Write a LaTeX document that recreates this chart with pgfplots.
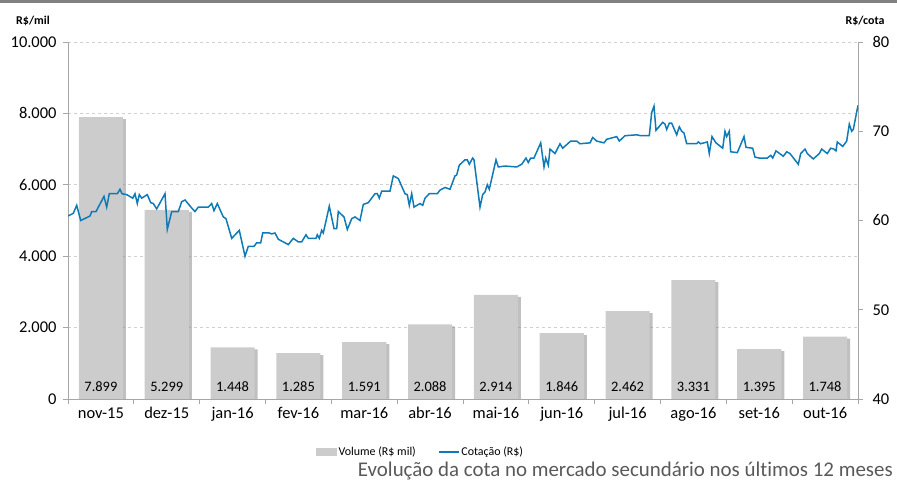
\documentclass[border=0pt]{standalone}
\usepackage{pgfplots}
\pgfplotsset{compat=1.18}
\usepackage{fontspec}
\setmainfont{Carlito}[Ligatures=NoCommon]
\definecolor{barcol}{HTML}{CCCCCC}
\definecolor{shadowcol}{HTML}{8C8C8C}
\definecolor{linecol}{HTML}{0F7AB5}
\definecolor{axcol}{HTML}{A6A6A6}
\definecolor{gridcol}{HTML}{D0D0D0}
\definecolor{captcol}{HTML}{595959}
\begin{document}
\begin{tikzpicture}
\useasboundingbox (-68bp,-82bp) rectangle (829bp,399bp);
\draw[color=gray, line width=3bp] (-68bp,397.5bp) -- (829bp,397.5bp);
\begin{axis}[
  scale only axis, width=790bp, height=357bp, at={(0,0)}, anchor=south west,
  xmin=-0.5, xmax=11.5, ymin=0, ymax=10000,
  axis x line*=bottom, axis y line*=left,
  axis line style={axcol, line width=0.8bp, -},
  xtick={0,...,11},
  xticklabels={nov-15,dez-15,jan-16,fev-16,mar-16,abr-16,mai-16,jun-16,jul-16,ago-16,set-16,out-16},
  major x tick style={draw=none},
  minor xtick={-0.5,0.5,...,11.5},
  tick align=outside, major tick length=5bp, minor tick length=5bp,
  tick style={axcol, line width=0.8bp},
  ytick={0,2000,...,10000},
  scaled y ticks=false,
  ymajorgrids, grid style={gridcol, dash pattern=on 3bp off 3bp, line width=0.8bp},
  /pgf/number format/.cd, fixed, precision=0, 1000 sep={.}, assume math mode=true, /pgfplots/.cd,
  ticklabel style={font=\fontsize{16.5}{18}\selectfont, text=black},
  yticklabel style={xshift=-3bp},
  legend style={at={(0.446,-0.148)}, anchor=center, draw=none, fill=none,
    legend columns=2, font=\fontsize{12}{14}\selectfont,
    /tikz/every even column/.append style={column sep=20bp}},
  legend cell align=left,
]
\addplot[ybar, bar width=0.67, bar shift=3bp, fill=shadowcol, draw=none, opacity=0.55, yshift=-2bp, forget plot]
  coordinates {(0,7899) (1,5299) (2,1448) (3,1285) (4,1591) (5,2088) (6,2914) (7,1846) (8,2462) (9,3331) (10,1395) (11,1748)};
\addplot[ybar, bar width=0.67, bar shift=0pt, fill=barcol, draw=none,
  legend image code/.code={\fill[barcol] (0bp,-4bp) rectangle (21bp,4bp);}]
  coordinates {(0,7899) (1,5299) (2,1448) (3,1285) (4,1591) (5,2088) (6,2914) (7,1846) (8,2462) (9,3331) (10,1395) (11,1748)};
\addlegendentry{Volume (R\$ mil)}
\addlegendimage{legend image code/.code={\draw[linecol, line width=1.5bp] (0bp,0bp) -- (20bp,0bp);}}
\addlegendentry{Cotação (R\$)}
\addplot[draw=none, mark=none, nodes near coords, point meta=explicit symbolic,
  nodes near coords align=center, every node near coord/.append style={font=\fontsize{14.5}{16}\selectfont, text=black}, forget plot]
  coordinates {(0,345)[7.899] (1,345)[5.299] (2,345)[1.448] (3,345)[1.285] (4,345)[1.591] (5,345)[2.088] (6,345)[2.914] (7,345)[1.846] (8,345)[2.462] (9,345)[3.331] (10,345)[1.395] (11,345)[1.748]};
\end{axis}
\begin{axis}[
  scale only axis, width=790bp, height=357bp, at={(0,0)}, anchor=south west,
  xmin=0, xmax=790, ymin=40, ymax=80,
  axis x line=none, axis y line*=right,
  axis line style={axcol, line width=0.8bp, -},
  ytick={40,50,...,80},
  tick align=outside, major tick length=5bp,
  tick style={axcol, line width=0.8bp},
  /pgf/number format/.cd, assume math mode=true, /pgfplots/.cd,
  ticklabel style={font=\fontsize{16.5}{18}\selectfont, text=black},
  yticklabel style={xshift=6bp},
]
\addplot[color=linecol, line width=1.5bp, mark=none] coordinates {
(0,60.5) (5.3,60.8) (8.7,61.7) (12.7,60.0) (22,60.5) (23.7,61.0) (28,61.0) (36,62.7) (38.7,61.5) (41.3,63.0)
(49.3,63.0) (52,63.5) (54,63.0) (58.7,62.9) (64.7,62.5) (67,63.0) (69.3,61.9) (71.3,62.9) (73.7,62.5) (79.3,62.9)
(82.7,62.0) (85.3,61.9) (88.7,61.3) (97,63.0) (99.3,59.0) (103.7,61.0) (110.3,61.0) (113.7,62.1) (117,62.3) (123.7,61.4)
(127,61.0) (130.3,61.5) (140.3,61.5) (143.7,61.9) (146,61.1) (149.3,61.9) (155.3,60.4) (158,60.2) (163.7,58.0) (171.3,58.9)
(177,56.0) (180.3,57.1) (186,57.1) (188.7,57.5) (192.7,57.5) (194.7,58.6) (201.3,58.6) (203.7,58.5) (207,58.6) (210.3,57.9)
(220.3,57.3) (225.3,58.0) (230.3,57.6) (233.7,57.6) (238,58.4) (240.3,58.0) (248,58.0) (249.3,58.4) (251.3,58.0) (253.7,58.9)
(255.3,58.6) (261.3,61.6) (266,59.1) (268.7,59.1) (270.3,61.0) (276,60.4) (279.3,59.0) (283.7,60.2) (287,60.4) (292,60.0)
(295.3,61.8) (300.3,62.0) (307,63.0) (309.3,63.0) (311.3,62.5) (313.7,63.3) (322,63.3) (325.3,65.0) (330.3,64.7) (337,63.0)
(339.3,62.9) (341.3,61.7) (343.7,63.0) (346,61.5) (352,61.9) (354.7,61.7) (357,62.5) (361.3,63.0) (369.3,63.0) (372,63.4)
(377,63.7) (382,63.5) (387,65.0) (388.7,65.1) (391.3,66.2) (397,66.8) (399.3,66.8) (401.3,66.3) (404.7,67.0) (406,66.8)
(412,61.5) (414.7,62.9) (417,63.2) (419.3,64.0) (421.3,63.5) (428,66.8) (430.3,66.0) (437,66.1) (448.7,66.0) (453.7,66.3)
(458,67.0) (460.3,66.5) (462.7,67.0) (466,67.0) (472.7,68.7) (476,66.0) (477.7,67.0) (480.3,66.2) (482,68.0) (487,67.5)
(492,68.6) (494.7,68.1) (502.7,68.9) (508.7,68.9) (512,68.6) (522,68.7) (524.7,69.3) (528.7,68.9) (536,68.7) (538.7,69.1)
(548.7,69.4) (551.3,68.9) (557,69.5) (568.7,69.6) (572.7,69.5) (581.3,69.5) (583.7,72.1) (586,72.8) (588,70.1) (594.7,71.0)
(597,70.8) (598.7,70.2) (601.3,70.9) (603.7,70.9) (608.7,69.6) (611.3,70.5) (613.7,70.0) (616,69.8) (618.7,68.6) (628.7,68.6)
(630.3,68.8) (632.7,68.6) (639.3,68.8) (641.3,67.5) (644,69.4) (648,68.7) (654.7,68.1) (657,70.0) (658.7,69.4) (661.3,70.0)
(662.7,67.7) (669.3,67.6) (676,69.4) (678,68.2) (684.7,68.1) (687,67.1) (691.3,67.0) (699.3,67.0) (702.7,67.3) (704.7,67.0)
(708,67.8) (715.3,67.2) (718.7,67.7) (722,67.5) (730.3,66.3) (732.7,67.5) (737,68.0) (739.3,67.5) (745.3,66.9) (751.3,67.5)
(753.7,68.0) (759.3,67.5) (762.7,68.1) (766,68.0) (768,67.8) (769.3,68.8) (774.7,68.3) (778.7,68.9) (781.3,70.8) (783.7,70.0)
(785.3,70.2) (790,72.9)
};
\end{axis}
\node[font=\bfseries\fontsize{12}{14}\selectfont] at (-35bp,378bp) {R\$/mil};
\node[font=\bfseries\fontsize{12}{14}\selectfont] at (797bp,378bp) {R\$/cota};
\node[anchor=base east, inner sep=0pt, text=captcol, font=\fontsize{21}{24}\selectfont] at (825bp,-77bp) {Evolução da cota no mercado secundário nos últimos 12 meses};
\end{tikzpicture}
\end{document}
